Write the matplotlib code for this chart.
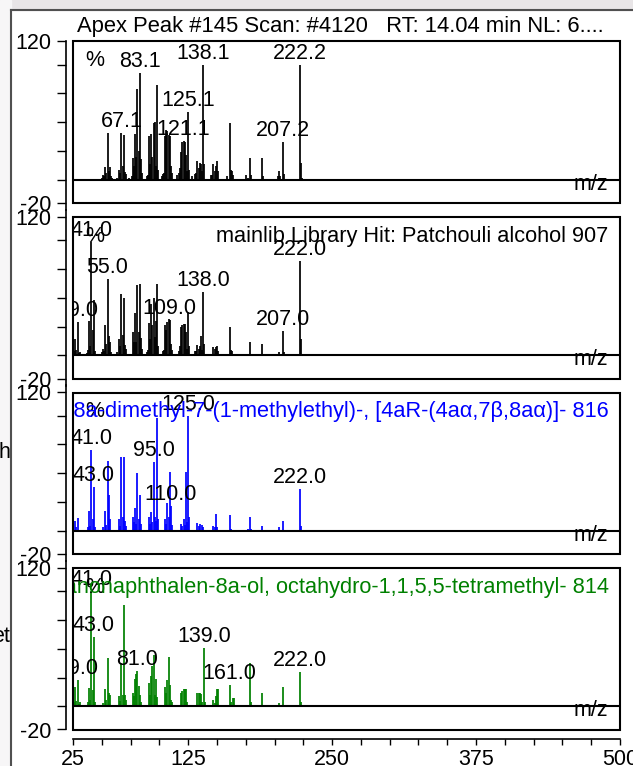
import matplotlib
matplotlib.use("Agg")
import matplotlib.pyplot as plt
from matplotlib.patches import Rectangle
from matplotlib.lines import Line2D

plt.rcParams['font.family'] = ['Liberation Sans', 'DejaVu Sans']
FS = 15.5

# Apex peak scan (sample)
sample_mz = [50, 51, 52, 53, 54, 55, 56, 57, 58, 59, 63, 65, 66, 67, 68, 69, 70, 71,
             74, 76, 77, 78, 79, 80, 81, 82, 83, 84, 85, 89, 90, 91, 92, 93, 94, 95,
             96, 97, 98, 99, 102, 103, 104, 105, 106, 107, 108, 109, 110, 111, 115,
             117, 118, 119, 120, 121, 122, 123, 124, 125, 126, 128, 131, 132, 133,
             134, 135, 136, 137, 138, 139, 145, 146, 147, 148, 149, 150, 151, 159,
             161, 162, 163, 164, 175, 177, 179, 180, 189, 190, 203, 204, 205, 207,
             208, 222, 223, 224]
sample_int = [2, 4, 3, 11, 6, 41, 8, 11, 3, 2, 2, 9, 6, 41, 12, 39, 7, 5,
              2, 3, 19, 12, 40, 20, 79, 25, 93, 18, 6, 3, 4, 38, 14, 40, 20, 49,
              50, 12, 82, 9, 3, 5, 6, 38, 43, 42, 39, 38, 12, 6, 4,
              6, 10, 24, 33, 34, 33, 22, 8, 59, 9, 3, 5, 6, 16,
              10, 15, 14, 8, 100, 14, 4, 4, 14, 8, 12, 16, 8, 3,
              49, 9, 8, 4, 4, 2, 19, 4, 19, 3, 3, 8, 3, 33,
              5, 100, 15, 2]
sample_lab_mz = [67, 83, 121, 125, 138, 207, 222]
sample_lab = ['67.1', '83.1', '121.1', '125.1', '138.1', '207.2', '222.2']

# mainlib hit: Patchouli alcohol
lib_mz = [26, 27, 28, 29, 30, 31, 37, 38, 39, 40, 41, 42, 43, 44, 50, 51, 52, 53,
          54, 55, 56, 57, 58, 63, 65, 66, 67, 68, 69, 70, 71, 77, 78, 79, 80, 81,
          82, 83, 84, 85, 89, 90, 91, 92, 93, 94, 95, 96, 97, 98, 99, 103, 104,
          105, 106, 107, 108, 109, 110, 111, 117, 118, 119, 120, 121, 122, 123,
          124, 125, 126, 131, 132, 133, 134, 135, 136, 137, 138, 139, 147, 148,
          149, 150, 151, 161, 162, 163, 179, 189, 204, 207, 208, 222, 223]
lib_int = [4, 14, 5, 29, 2, 3, 2, 5, 30, 8, 98, 22, 48, 4, 3, 6, 4, 26,
           10, 66, 17, 12, 3, 3, 14, 8, 53, 18, 50, 9, 6, 20, 12, 37, 12, 61,
           20, 62, 15, 6, 3, 5, 28, 14, 45, 26, 50, 16, 30, 62, 8, 4, 5,
           26, 22, 29, 32, 31, 10, 5, 4, 8, 25, 26, 27, 27, 20,
           6, 38, 8, 4, 4, 9, 6, 8, 17, 5, 55, 10, 7, 6,
           7, 8, 4, 25, 5, 4, 12, 10, 3, 21, 3, 82, 14]
lib_lab_mz = [29, 41, 55, 109, 138, 207, 222]
lib_lab = ['29.0', '41.0', '55.0', '109.0', '138.0', '207.0', '222.0']

# second hit (blue)
hit2_mz = [27, 28, 29, 38, 39, 40, 41, 42, 43, 44, 51, 53, 54, 55, 56, 57, 65, 66,
           67, 68, 69, 70, 71, 77, 78, 79, 80, 81, 82, 83, 84, 91, 92, 93, 94, 95,
           96, 97, 98, 99, 105, 106, 107, 108, 109, 110, 111, 119, 120, 121, 122,
           123, 124, 125, 126, 133, 134, 135, 137, 138, 147, 148, 149, 150, 161,
           162, 177, 179, 180, 189, 204, 207, 222, 223]
hit2_int = [9, 3, 11, 3, 17, 4, 70, 10, 38, 3, 3, 17, 5, 61, 31, 10, 10, 4,
            64, 12, 64, 9, 4, 12, 8, 20, 6, 50, 10, 31, 6, 12, 6, 16, 8, 60,
            12, 9, 98, 10, 10, 6, 24, 12, 51, 22, 5, 6, 4, 10, 5,
            51, 8, 100, 12, 7, 4, 6, 5, 3, 4, 3, 15, 3, 14,
            2, 2, 12, 2, 4, 3, 9, 36, 4]
hit2_lab_mz = [41, 43, 95, 110, 125, 222]
hit2_lab = ['41.0', '43.0', '95.0', '110.0', '125.0', '222.0']

# third hit (green)
hit3_mz = [26, 27, 28, 29, 30, 31, 38, 39, 40, 41, 42, 43, 44, 51, 53, 54, 55, 56,
           57, 65, 66, 67, 68, 69, 70, 71, 77, 78, 79, 80, 81, 82, 83, 84, 91, 92,
           93, 94, 95, 96, 97, 98, 105, 106, 107, 108, 109, 110, 111, 119, 120,
           121, 122, 123, 124, 133, 134, 135, 136, 137, 139, 140, 147, 148, 149,
           150, 151, 161, 162, 164, 165, 179, 180, 189, 204, 207, 222, 223]
hit3_int = [4, 17, 5, 23, 2, 4, 4, 16, 6, 100, 14, 60, 4, 3, 15, 6, 42, 12,
            10, 9, 5, 38, 10, 88, 10, 6, 12, 9, 24, 28, 31, 18, 10, 4, 20, 10,
            26, 35, 45, 10, 24, 8, 17, 12, 23, 43, 19, 6, 4, 12, 13,
            15, 15, 15, 4, 12, 12, 12, 11, 4, 51, 4, 6, 3, 9,
            15, 15, 19, 4, 7, 7, 38, 4, 12, 3, 17, 30, 4]
hit3_lab_mz = [29, 41, 43, 81, 139, 161, 222]
hit3_lab = ['29.0', '41.0', '43.0', '81.0', '139.0', '161.0', '222.0']

title = 'Apex Peak #145 Scan: #4120   RT: 14.04 min NL: 6....'
captions = [None,
            'mainlib Library Hit: Patchouli alcohol 907',
            '2(1H)-Naphthalenone, octahydro-4a,8a-dimethyl-7-(1-methylethyl)-, '
            '[4aR-(4a\u03b1,7\u03b2,8a\u03b1)]- 816',
            '2H-2,4a-Methanonaphthalen-8a-ol, octahydro-1,1,5,5-tetramethyl- 814']

W, H = 633, 766
fig = plt.figure(figsize=(W / 100, H / 100), dpi=100)
fig.patch.set_facecolor('white')

# screenshot surroundings
fig.patches.append(Rectangle((0, 1 - 10 / H), 1, 10 / H, transform=fig.transFigure,
                             color='#e8e5e7', zorder=0))
fig.patches.append(Rectangle((0, 0), 11 / W, 1, transform=fig.transFigure,
                             color='#f7f6f7', zorder=0))
fig.add_artist(Line2D([11 / W, 11 / W], [0, 1 - 10 / H], color='#505050', lw=1.5))
fig.add_artist(Line2D([11 / W, 1], [1 - 10 / H, 1 - 10 / H], color='#505050', lw=1.5))
fig.text(10 / W, 1 - 453 / H, 'h', ha='right', va='center', fontsize=FS)
fig.text(10 / W, 1 - 637 / H, 'et', ha='right', va='center', fontsize=FS)

spectra = [
    (sample_mz, sample_int, 'black', sample_lab_mz, sample_lab, 'black'),
    (lib_mz, lib_int, 'black', lib_lab_mz, lib_lab, 'black'),
    (hit2_mz, hit2_int, '#0000ff', hit2_lab_mz, hit2_lab, '#0000ff'),
    (hit3_mz, hit3_int, '#008000', hit3_lab_mz, hit3_lab, '#008000'),
]

axes = []
n = len(spectra)
for i, (mz, inten, col, lmz, ltxt, ccol) in enumerate(spectra):
    top = 41.5 + 175.5 * i
    ax = fig.add_axes([73 / W, 1 - (top + 161.5) / H, 547 / W, 161.5 / H])
    axes.append(ax)
    ax.set_xlim(25, 500)
    ax.set_ylim(-20, 120)
    ax.vlines(mz, 0, inten, color=col, lw=1.25, zorder=2)
    ax.axhline(0, color='black', lw=1.5, zorder=3)

    for m, t in zip(lmz, ltxt):
        h = inten[mz.index(m)]
        ax.annotate(t, xy=(m, h), xytext=(0, 4.3), textcoords='offset points',
                    ha='center', va='baseline', fontsize=FS, clip_on=True, zorder=4)

    ax.text(0.022, 0.848, '%', transform=ax.transAxes, fontsize=FS,
            va='baseline', ha='left', zorder=4)
    if captions[i]:
        ax.text(0.979, 0.848, captions[i], transform=ax.transAxes, fontsize=15.65,
                va='baseline', ha='right', color=ccol, clip_on=True, zorder=5)
    ax.annotate('m/z', xy=(0.978, 0), xycoords=('axes fraction', 'data'),
                xytext=(0, -7.2), textcoords='offset points', ha='right',
                va='baseline', fontsize=FS, zorder=4)

    # box around the plot area
    ax.add_patch(Rectangle((0, 0), 1, 1, transform=ax.transAxes, fill=False,
                           ec='black', lw=1.5, clip_on=False, zorder=6))

    for s in ['top', 'right', 'bottom']:
        ax.spines[s].set_visible(False)
    # intensity axis runs on between panels
    lo = -20 if i == n - 1 else -26.5
    hi = 120 if i == 0 else 126.5
    ax.spines['left'].set_position(('outward', 5))
    ax.spines['left'].set_bounds(lo, hi)
    ax.spines['left'].set_linewidth(1.2)
    ax.set_yticks([120, 100, 75, 50, 25, 0, -20])
    ax.set_yticklabels(['120', '', '', '', '', '', '-20'])
    ax.tick_params(axis='y', direction='out', length=6.5, width=1.0,
                   labelsize=FS, pad=4)
    ax.set_xticks([])

axes[0].annotate(title, xy=(0, 1), xycoords='axes fraction', xytext=(3, 6.8),
                 textcoords='offset points', ha='left', va='baseline', fontsize=15.8)

# shared m/z axis under the last panel
axb = axes[-1]
axb.spines['bottom'].set_visible(True)
axb.spines['bottom'].set_position(('outward', 6.5))
axb.spines['bottom'].set_bounds(25, 500)
axb.spines['bottom'].set_linewidth(1.2)
xt = list(range(25, 501, 25))
axb.set_xticks(xt)
axb.set_xticklabels([str(v) if v in (25, 125, 250, 375, 500) else '' for v in xt])
axb.tick_params(axis='x', direction='out', length=4.3, width=1.0, labelsize=FS, pad=3)

fig.savefig('out.png', dpi=100)
